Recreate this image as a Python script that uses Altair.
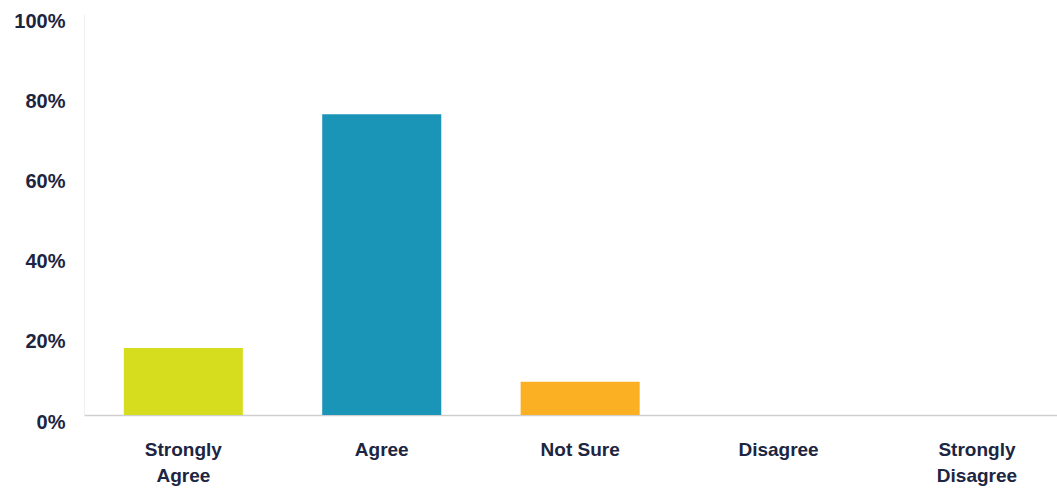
import altair as alt
import pandas as pd

categories = ["Strongly Agree", "Agree", "Not Sure", "Disagree", "Strongly Disagree"]
shares = [16.7, 75.0, 8.3, 0.0, 0.0]
colors = ["#d5dd1e", "#1a95b8", "#fbb024", "#9e9e9e", "#7f7f7f"]

df = pd.DataFrame({"category": categories, "share": shares})

text_color = "#1c2541"

bars = alt.Chart(df).mark_bar().encode(
    x=alt.X(
        "category:N",
        sort=categories,
        title=None,
        scale=alt.Scale(paddingInner=0.4, paddingOuter=0.152, align=0.66),
        axis=alt.Axis(
            labelAngle=0,
            labelExpr="indexof(datum.label, 'Strongly') == 0 ? split(datum.label, ' ') : datum.label",
            labelFont="Liberation Sans",
            labelFontWeight="bold",
            labelFontSize=19,
            labelColor=text_color,
            labelLineHeight=26,
            labelPadding=25,
            ticks=False,
            domainColor="#cfcfcf",
            domainWidth=1.5,
            grid=False,
        ),
    ),
    y=alt.Y(
        "share:Q",
        title=None,
        scale=alt.Scale(domain=[0, 100], nice=False),
        axis=alt.Axis(
            values=[0, 20, 40, 60, 80, 100],
            labelExpr="datum.value + '%'",
            labelFont="Liberation Sans",
            labelFontWeight="bold",
            labelFontSize=20,
            labelColor=text_color,
            labelPadding=19,
            labelOffset=7,
            ticks=False,
            grid=False,
            domainColor="#efefef",
        ),
    ),
    color=alt.Color("category:N", sort=categories,
                    scale=alt.Scale(domain=categories, range=colors), legend=None),
)

chart = bars.properties(
    width=973,
    height=401,
    autosize=alt.AutoSizeParams(type="none"),
    padding={"left": 84, "top": 14, "right": 0, "bottom": 73},
).configure(background="white").configure_view(stroke=None, strokeWidth=0)

chart.save("out.html", embed_options={"renderer": "svg", "actions": False})
